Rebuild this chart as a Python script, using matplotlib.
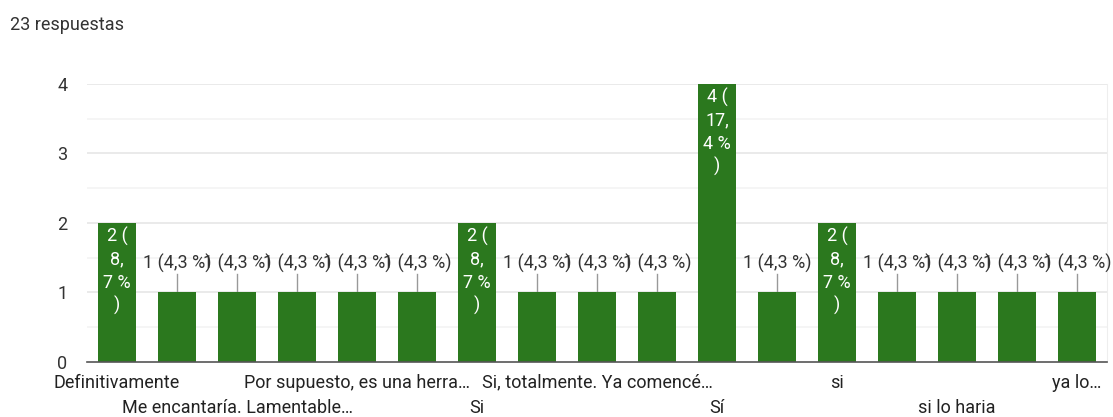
import numpy as np
import matplotlib
matplotlib.use('Agg')
import matplotlib.pyplot as plt

plt.rcParams['font.family'] = ['Roboto', 'DejaVu Sans']

# Data
labels = ['Definitivamente', '', 'Me encantaría. Lamentable…', '',
          'Por supuesto, es una herra…', '', 'Si', '',
          'Si, totalmente. Ya comencé…', '', 'Sí', '',
          'si', '', 'si lo haria', '', 'ya lo…']
counts = [2, 1, 1, 1, 1, 1, 2, 1, 1, 1, 4, 1, 2, 1, 1, 1, 1]
total = 23

green = '#2b781e'
x = np.arange(len(counts))

fig = plt.figure(figsize=(11.13, 4.17), dpi=100)
ax = fig.add_axes([0.0782, 0.1319, 0.9164, 0.6667])

ax.set_xlim(-0.5, len(counts) - 0.5)
ax.set_ylim(0, 4)

# grid
for g in np.arange(0.5, 4.01, 0.5):
    c = '#e6e6e6' if g % 1 == 0 else '#f3f3f3'
    ax.axhline(g, color=c, lw=1.2, zorder=0)

ax.bar(x, counts, width=0.62, color=green, zorder=2)

fs = 13
for xi, v in zip(x, counts):
    pct = f'{v / total * 100:.1f}'.replace('.', ',')
    if v == 1:
        ax.plot([xi, xi], [v, v + 0.27], color='#999999', lw=1, zorder=1)
        ax.text(xi, v + 0.42, f'{v} ({pct} %)', ha='center', va='center',
                fontsize=fs, color='#333333', zorder=3)
    else:
        a, b = pct.split(',')
        lines = [f'{v} (', f'{a},', f'{b} %', ')']
        for k, s in enumerate(lines):
            ax.text(xi, v - 0.2 - k * 0.33, s, ha='center', va='center',
                    fontsize=fs, color='white', zorder=3)

# axes styling
for s in ['top', 'left']:
    ax.spines[s].set_visible(False)
ax.spines['right'].set_color('#eeeeee')
ax.spines['bottom'].set_color('#555555')
ax.spines['bottom'].set_linewidth(1.2)
ax.spines['bottom'].set_zorder(4)

ax.set_yticks([0, 1, 2, 3, 4])
ax.tick_params(axis='y', length=0, pad=14, labelsize=fs, labelcolor='#333333')
ax.set_xticks([])

for xi, lab in zip(x, labels):
    if not lab:
        continue
    yoff = -0.075 if (xi // 2) % 2 == 0 else -0.165
    ax.text(xi, yoff, lab, transform=ax.get_xaxis_transform(), ha='center',
            va='center', fontsize=fs, color='#222222')

fig.text(10 / 1113, 1 - 25 / 417, '23 respuestas', ha='left', va='center',
         fontsize=fs, color='#333333')

fig.savefig('out.png', dpi=100)
